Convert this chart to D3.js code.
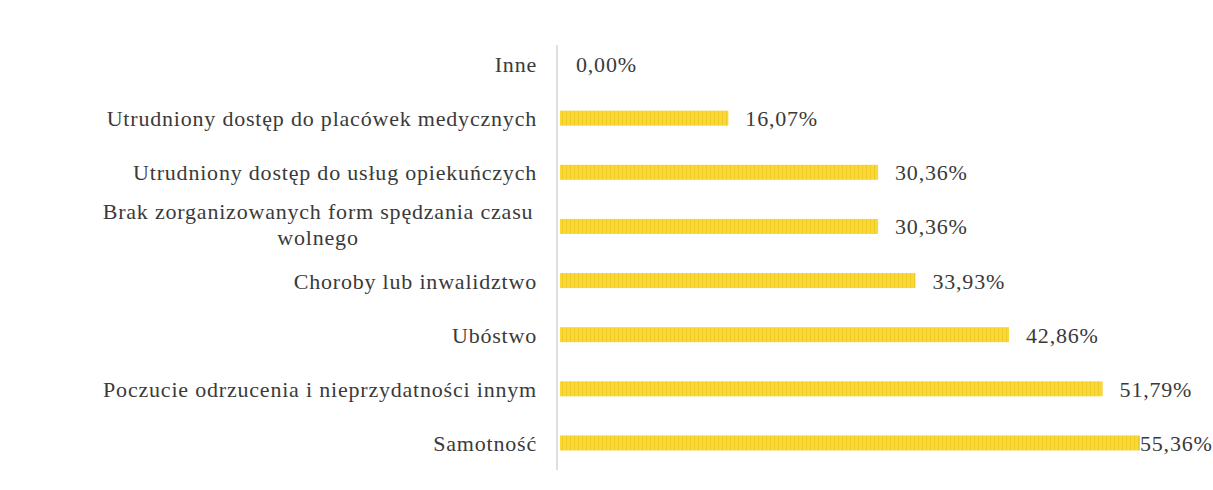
<!DOCTYPE html>
<html lang="pl">
<head>
  <meta charset="utf-8">
  <style>
    html, body {
      margin: 0;
      padding: 0;
      background: #fff;
      width: 100%;
      height: 100%;
      overflow: hidden;
    }
    svg { display: block; }
  </style>
</head>
<body>
<svg></svg>
<script src="https://d3js.org/d3.v7.min.js"></script>
<script>
const categories = [
  "Inne",
  "Utrudniony dostęp do placówek medycznych",
  "Utrudniony dostęp do usług opiekuńczych",
  "Brak zorganizowanych form spędzania czasu|wolnego",
  "Choroby lub inwalidztwo",
  "Ubóstwo",
  "Poczucie odrzucenia i nieprzydatności innym",
  "Samotność"
];
const values = [0.00, 16.07, 30.36, 30.36, 33.93, 42.86, 51.79, 55.36];

const width = 1213, height = 490;
const svg = d3.select("svg").attr("width", width).attr("height", height);
const FONT = "'Liberation Serif', serif";

const x0 = 560;
const x = d3.scaleLinear().domain([0, 55.36]).range([x0, 1140]);
const y = d3.scaleBand().domain(categories).range([37, 470]).paddingInner(0.72).paddingOuter(0.36);

// tekstura paska (pionowe prążki jak w skanie)
const defs = svg.append("defs");
const pat = defs.append("pattern")
  .attr("id", "stripes")
  .attr("patternUnits", "userSpaceOnUse")
  .attr("width", 4).attr("height", 10);
pat.append("rect").attr("width", 4).attr("height", 10).attr("fill", "#f8d938");
pat.append("rect").attr("x", 2).attr("width", 1).attr("height", 10).attr("fill", "#f0ca22");

// oś pionowa
svg.append("line")
  .attr("x1", x0 - 3).attr("x2", x0 - 3)
  .attr("y1", 45).attr("y2", 470)
  .attr("stroke", "#d4d4d4")
  .attr("stroke-width", 1.5);

const rows = svg.append("g")
  .selectAll("g")
  .data(categories.map((c, i) => ({ cat: c, val: values[i] })))
  .join("g");

rows.append("rect")
  .attr("x", x0)
  .attr("y", d => y(d.cat) + y.bandwidth() / 2 - 7.5)
  .attr("width", d => x(d.val) - x0)
  .attr("height", 15)
  .attr("fill", "url(#stripes)");

// etykiety kategorii
rows.each(function(d) {
  const lines = d.cat.split("|");
  const cy = y(d.cat) + y.bandwidth() / 2;
  const t = d3.select(this).append("text")
    .style("font-family", FONT)
    .style("font-size", "22px")
    .style("letter-spacing", "0.8px")
    .attr("fill", "#3a3a3a");
  if (lines.length === 1) {
    t.attr("text-anchor", "end")
      .attr("x", 537)
      .attr("y", cy + 8)
      .text(lines[0]);
  } else {
    // etykieta dwuwierszowa, wyśrodkowana
    t.attr("text-anchor", "middle");
    lines.forEach((l, i) => {
      t.append("tspan")
        .attr("x", 318)
        .attr("y", cy - 7 + i * 26)
        .text(l);
    });
  }
});

// wartości
rows.append("text")
  .style("font-family", FONT)
  .style("font-size", "22px")
  .style("letter-spacing", "0.8px")
  .attr("fill", "#3a3a3a")
  .attr("y", d => y(d.cat) + y.bandwidth() / 2 + 8)
  .attr("x", d => {
    const xx = d.val === 0 ? x0 + 16 : x(d.val) + 17;
    return Math.min(xx, 1140);
  })
  .text(d => d.val.toFixed(2).replace(".", ",") + "%");
</script>
</body>
</html>
